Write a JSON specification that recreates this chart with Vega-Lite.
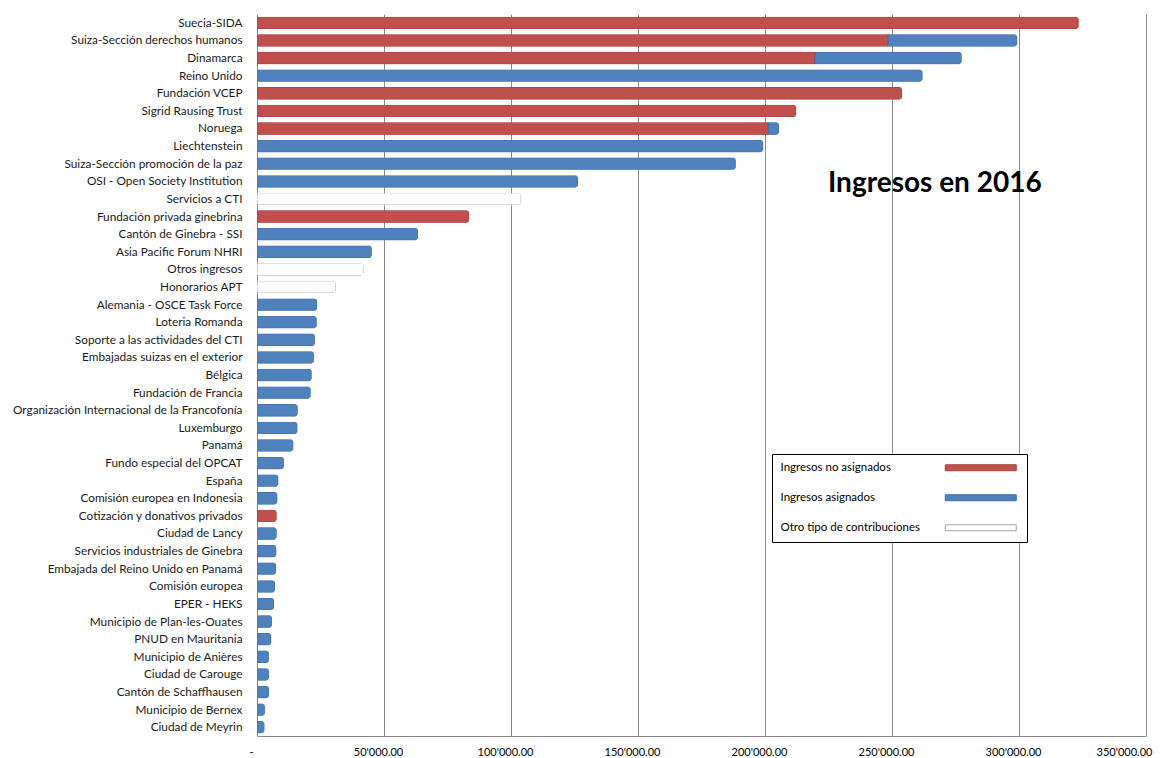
{
  "$schema": "https://vega.github.io/schema/vega-lite/v6.json",
  "autosize": {"type": "none"},
  "padding": {"left": 257, "top": 14, "right": 20, "bottom": 22},
  "width": 889,
  "height": 722,
  "background": "#ffffff",
  "title": {
    "text": "Ingresos en 2016",
    "anchor": "start",
    "frame": "group",
    "font": "Lato",
    "fontSize": 28,
    "fontWeight": "bold",
    "color": "#000000",
    "dx": 571,
    "dy": 188
  },
  "data": {
    "values": [
      {"fuente": "Suecia-SIDA", "tipo": "Ingresos no asignados", "monto": 323500, "orden": 1, "pila": 1},
      {"fuente": "Suiza-Sección derechos humanos", "tipo": "Ingresos no asignados", "monto": 248500, "orden": 2, "pila": 1},
      {"fuente": "Suiza-Sección derechos humanos", "tipo": "Ingresos asignados", "monto": 50800, "orden": 2, "pila": 2},
      {"fuente": "Dinamarca", "tipo": "Ingresos no asignados", "monto": 219700, "orden": 3, "pila": 1},
      {"fuente": "Dinamarca", "tipo": "Ingresos asignados", "monto": 57700, "orden": 3, "pila": 2},
      {"fuente": "Reino Unido", "tipo": "Ingresos asignados", "monto": 262000, "orden": 4, "pila": 2},
      {"fuente": "Fundación VCEP", "tipo": "Ingresos no asignados", "monto": 254000, "orden": 5, "pila": 1},
      {"fuente": "Sigrid Rausing Trust", "tipo": "Ingresos no asignados", "monto": 212300, "orden": 6, "pila": 1},
      {"fuente": "Noruega", "tipo": "Ingresos no asignados", "monto": 201300, "orden": 7, "pila": 1},
      {"fuente": "Noruega", "tipo": "Ingresos asignados", "monto": 4200, "orden": 7, "pila": 2},
      {"fuente": "Liechtenstein", "tipo": "Ingresos asignados", "monto": 199300, "orden": 8, "pila": 2},
      {"fuente": "Suiza-Sección promoción de la paz", "tipo": "Ingresos asignados", "monto": 188500, "orden": 9, "pila": 2},
      {"fuente": "OSI - Open Society Institution", "tipo": "Ingresos asignados", "monto": 126400, "orden": 10, "pila": 2},
      {"fuente": "Servicios a CTI", "tipo": "Otro tipo de contribuciones", "monto": 104000, "orden": 11, "pila": 3},
      {"fuente": "Fundación privada ginebrina", "tipo": "Ingresos no asignados", "monto": 83500, "orden": 12, "pila": 1},
      {"fuente": "Cantón de Ginebra - SSI", "tipo": "Ingresos asignados", "monto": 63400, "orden": 13, "pila": 2},
      {"fuente": "Asia Pacific Forum NHRI", "tipo": "Ingresos asignados", "monto": 45200, "orden": 14, "pila": 2},
      {"fuente": "Otros ingresos", "tipo": "Otro tipo de contribuciones", "monto": 41900, "orden": 15, "pila": 3},
      {"fuente": "Honorarios APT", "tipo": "Otro tipo de contribuciones", "monto": 31100, "orden": 16, "pila": 3},
      {"fuente": "Alemania - OSCE Task Force", "tipo": "Ingresos asignados", "monto": 23700, "orden": 17, "pila": 2},
      {"fuente": "Loteria Romanda", "tipo": "Ingresos asignados", "monto": 23500, "orden": 18, "pila": 2},
      {"fuente": "Soporte a las actividades del CTI", "tipo": "Ingresos asignados", "monto": 22800, "orden": 19, "pila": 2},
      {"fuente": "Embajadas suizas en el exterior", "tipo": "Ingresos asignados", "monto": 22400, "orden": 20, "pila": 2},
      {"fuente": "Bélgica", "tipo": "Ingresos asignados", "monto": 21500, "orden": 21, "pila": 2},
      {"fuente": "Fundación de Francia", "tipo": "Ingresos asignados", "monto": 21100, "orden": 22, "pila": 2},
      {"fuente": "Organización Internacional de la Francofonía", "tipo": "Ingresos asignados", "monto": 16000, "orden": 23, "pila": 2},
      {"fuente": "Luxemburgo", "tipo": "Ingresos asignados", "monto": 15900, "orden": 24, "pila": 2},
      {"fuente": "Panamá", "tipo": "Ingresos asignados", "monto": 14300, "orden": 25, "pila": 2},
      {"fuente": "Fundo especial del OPCAT", "tipo": "Ingresos asignados", "monto": 10600, "orden": 26, "pila": 2},
      {"fuente": "España", "tipo": "Ingresos asignados", "monto": 8400, "orden": 27, "pila": 2},
      {"fuente": "Comisión europea en Indonesia", "tipo": "Ingresos asignados", "monto": 8000, "orden": 28, "pila": 2},
      {"fuente": "Cotización y donativos privados", "tipo": "Ingresos no asignados", "monto": 7700, "orden": 29, "pila": 1},
      {"fuente": "Ciudad de Lancy", "tipo": "Ingresos asignados", "monto": 7700, "orden": 30, "pila": 2},
      {"fuente": "Servicios industriales de Ginebra", "tipo": "Ingresos asignados", "monto": 7600, "orden": 31, "pila": 2},
      {"fuente": "Embajada del Reino Unido en Panamá", "tipo": "Ingresos asignados", "monto": 7500, "orden": 32, "pila": 2},
      {"fuente": "Comisión europea", "tipo": "Ingresos asignados", "monto": 7100, "orden": 33, "pila": 2},
      {"fuente": "EPER - HEKS", "tipo": "Ingresos asignados", "monto": 6700, "orden": 34, "pila": 2},
      {"fuente": "Municipio de Plan-les-Ouates", "tipo": "Ingresos asignados", "monto": 5900, "orden": 35, "pila": 2},
      {"fuente": "PNUD en Mauritania", "tipo": "Ingresos asignados", "monto": 5600, "orden": 36, "pila": 2},
      {"fuente": "Municipio de Anières", "tipo": "Ingresos asignados", "monto": 4700, "orden": 37, "pila": 2},
      {"fuente": "Ciudad de Carouge", "tipo": "Ingresos asignados", "monto": 4700, "orden": 38, "pila": 2},
      {"fuente": "Cantón de Schaffhausen", "tipo": "Ingresos asignados", "monto": 4700, "orden": 39, "pila": 2},
      {"fuente": "Municipio de Bernex", "tipo": "Ingresos asignados", "monto": 3100, "orden": 40, "pila": 2},
      {"fuente": "Ciudad de Meyrin", "tipo": "Ingresos asignados", "monto": 2900, "orden": 41, "pila": 2}
    ]
  },
  "mark": {"type": "bar", "strokeWidth": 1, "cornerRadiusEnd": 3},
  "encoding": {
    "y": {
      "field": "fuente",
      "type": "nominal",
      "sort": {"field": "orden", "op": "min", "order": "ascending"},
      "scale": {"paddingInner": 0.3, "paddingOuter": 0.15},
      "axis": {
        "title": null,
        "ticks": false,
        "domain": false,
        "labelFont": "Lato",
        "labelFontSize": 11.8,
        "labelColor": "#1a1a1a",
        "labelPadding": 15,
        "labelLimit": 400
      }
    },
    "x": {
      "field": "monto",
      "type": "quantitative",
      "stack": "zero",
      "scale": {"domain": [0, 350000], "nice": false},
      "axis": {
        "title": null,
        "values": [0, 50000, 100000, 150000, 200000, 250000, 300000, 350000],
        "labelExpr": "datum.value == 0 ? '-' : replace(format(datum.value, ',.2f'), ',', \"'\")",
        "labelFont": "Lato",
        "labelFontSize": 11,
        "labelColor": "#000000",
        "labelFlush": false,
        "labelOverlap": false,
        "labelOffset": {"condition": {"test": "datum.value == 350000", "value": -22}, "value": -6},
        "ticks": false,
        "labelPadding": 10,
        "grid": true,
        "gridColor": "#8a8a8a",
        "gridWidth": 1,
        "domain": true,
        "domainColor": "#8a8a8a"
      }
    },
    "order": {"field": "pila", "type": "quantitative"},
    "fill": {
      "field": "tipo",
      "type": "nominal",
      "scale": {
        "domain": ["Ingresos no asignados", "Ingresos asignados", "Otro tipo de contribuciones"],
        "range": ["#C0504D", "#4F81BD", "#ffffff"]
      },
      "legend": {
        "title": null,
        "orient": "none",
        "legendX": 515,
        "legendY": 440,
        "strokeColor": "#000000",
        "fillColor": "#ffffff",
        "padding": 8,
        "rowPadding": 17,
        "symbolType": "M31.9,-0.6H46.1V0.6H31.9Z",
        "symbolSize": 100,
        "symbolStrokeWidth": 1,
        "symbolOffset": 0,
        "labelOffset": -11,
        "labelFont": "Lato",
        "labelFontSize": 11.5,
        "labelColor": "#000000",
        "labelLimit": 300
      }
    },
    "stroke": {
      "field": "tipo",
      "type": "nominal",
      "scale": {
        "domain": ["Ingresos no asignados", "Ingresos asignados", "Otro tipo de contribuciones"],
        "range": ["#a8403d", "#3d6ea8", "#a6a6a6"]
      },
      "legend": null
    }
  },
  "config": {
    "view": {"stroke": null}
  }
}
